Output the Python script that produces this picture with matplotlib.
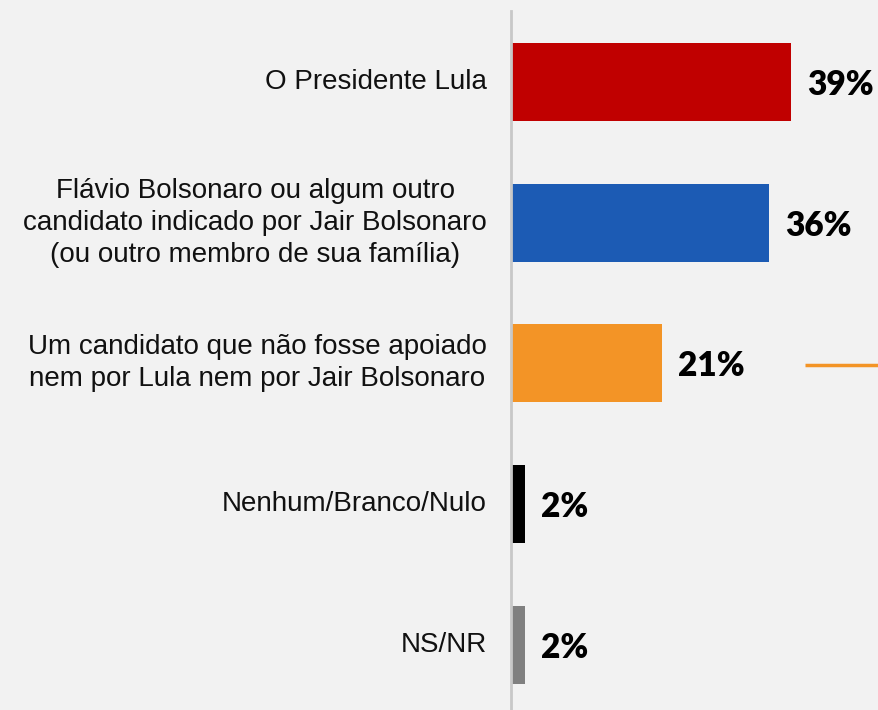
import matplotlib.pyplot as plt

categories = [
    "O Presidente Lula",
    "Flávio Bolsonaro ou algum outro\ncandidato indicado por Jair Bolsonaro\n(ou outro membro de sua família)",
    "Um candidato que não fosse apoiado\nnem por Lula nem por Jair Bolsonaro",
    "Nenhum/Branco/Nulo",
    "NS/NR",
]
values = [39, 36, 21, 2, 2]
colors = ["#c00000", "#1c5bb4", "#f39426", "#000000", "#808080"]

bg = "#f2f2f2"
fig = plt.figure(figsize=(8.79, 7.10), dpi=100, facecolor=bg)
ax = fig.add_axes([511 / 879, 0, 368 / 879, 699 / 710])
ax.set_facecolor(bg)

px = 7.18  # pixels per percent
ax.set_xlim(0, 368 / px)
ax.set_ylim(4.462, -0.504)

pos = list(range(len(values)))
ax.barh(pos, values, height=0.554, color=colors)

for p, v in zip(pos, values):
    ax.text(v + 16 / px, p + 0.02, f"{v}%", va="center", ha="left",
            fontsize=24, fontweight="heavy", family="Lato", color="black")

for p, c in zip(pos, categories):
    ax.text(-24 / px, p, c, va="center", ha="right", multialignment="center",
            fontsize=20, family="Liberation Sans", color="#111111",
            linespacing=1.3, clip_on=False)

# orange marker line on the right of the third bar
ax.plot([(805 - 511) / px, 368 / px], [2.01, 2.01], color="#f39426", lw=2.5,
        clip_on=False, solid_capstyle="butt")

for s in ["top", "right", "bottom"]:
    ax.spines[s].set_visible(False)
ax.spines["left"].set_color("#c8c8c8")
ax.spines["left"].set_linewidth(2)
ax.set_xticks([])
ax.set_yticks([])

fig.savefig("out.png", dpi=100, facecolor=bg)
